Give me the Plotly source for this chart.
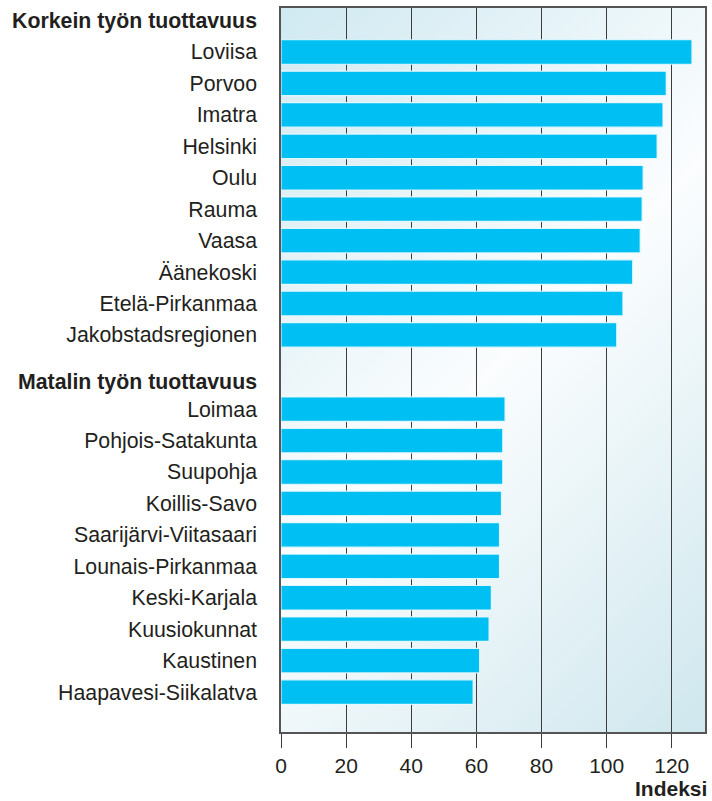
import base64
import plotly.graph_objects as go

high_regions = ["Loviisa", "Porvoo", "Imatra", "Helsinki", "Oulu", "Rauma",
                "Vaasa", "Äänekoski", "Etelä-Pirkanmaa", "Jakobstadsregionen"]
high_values = [126.2, 118.3, 117.3, 115.5, 111.2, 110.9, 110.3, 108.0, 105.0, 103.1]

low_regions = ["Loimaa", "Pohjois-Satakunta", "Suupohja", "Koillis-Savo",
               "Saarijärvi-Viitasaari", "Lounais-Pirkanmaa", "Keski-Karjala",
               "Kuusiokunnat", "Kaustinen", "Haapavesi-Siikalatva"]
low_values = [68.8, 68.1, 68.1, 67.7, 67.1, 67.1, 64.6, 63.9, 61.0, 59.0]

high_title = "Korkein työn tuottavuus"
low_title = "Matalin työn tuottavuus"
x_ticks = [0, 20, 40, 60, 80, 100, 120]
x_title = "Indeksi"

# row positions: group 1 at 0..9, gap, group 2 after that
low_start = 11.36
y_high = list(range(len(high_regions)))
y_low = [low_start + i for i in range(len(low_regions))]

tickvals = [-1] + y_high + [low_start - 0.88] + y_low
ticktext = ["<b>" + high_title + "</b>"] + high_regions + ["<b>" + low_title + "</b>"] + low_regions

# diagonal gradient background for the plot area
svg = """<svg xmlns="http://www.w3.org/2000/svg" width="427" height="724" viewBox="0 0 427 724" preserveAspectRatio="none">
<defs><linearGradient id="g" gradientUnits="userSpaceOnUse" x1="0" y1="0" x2="575" y2="575">
<stop offset="0" stop-color="#d0e9f1"/>
<stop offset="0.5" stop-color="#fbfdfe"/>
<stop offset="1" stop-color="#cfe7ee"/>
</linearGradient></defs>
<rect width="427" height="724" fill="url(#g)"/></svg>"""
bg = "data:image/svg+xml;base64," + base64.b64encode(svg.encode()).decode()

fig = go.Figure()
fig.add_trace(go.Bar(
    x=high_values + low_values,
    y=y_high + y_low,
    orientation="h",
    width=0.78,
    marker=dict(color="#00bff2", line=dict(color="rgba(235,250,255,0.9)", width=1.2)),
    showlegend=False,
))

font = "Liberation Sans, Arial, sans-serif"
fig.update_layout(
    width=712, height=801,
    margin=dict(l=281, r=5, t=8, b=69),
    paper_bgcolor="white",
    plot_bgcolor="rgba(0,0,0,0)",
    font=dict(family=font, size=21.3, color="#231f20"),
    images=[dict(source=bg, xref="paper", yref="paper", x=0, y=1, sizex=1, sizey=1,
                 sizing="stretch", layer="below", xanchor="left", yanchor="top")],
    annotations=[dict(text="<b>" + x_title + "</b>", xref="paper", yref="paper",
                      x=1, y=0, xanchor="right", yanchor="middle", xshift=4, yshift=-56,
                      showarrow=False, font=dict(size=21, color="#231f20"))],
)
fig.update_xaxes(
    range=[0, 130.2], tickvals=x_ticks,
    showgrid=True, gridcolor="#3c3c3c", gridwidth=1.4,
    zeroline=False,
    showline=True, linecolor="#555555", linewidth=1.5, mirror=True,
    ticks="outside", ticklen=14, tickwidth=1.3, tickcolor="#3c3c3c",
    tickfont=dict(size=21),
)
fig.update_yaxes(
    range=[21.63, -1.40], tickvals=tickvals, ticktext=ticktext,
    showgrid=False, zeroline=False,
    showline=True, linecolor="#555555", linewidth=1.5, mirror=True,
    ticks="", ticklabelstandoff=18,
)

fig.write_html("out.html", config={"displayModeBar": False},
               post_script="document.body.style.margin='0';")
